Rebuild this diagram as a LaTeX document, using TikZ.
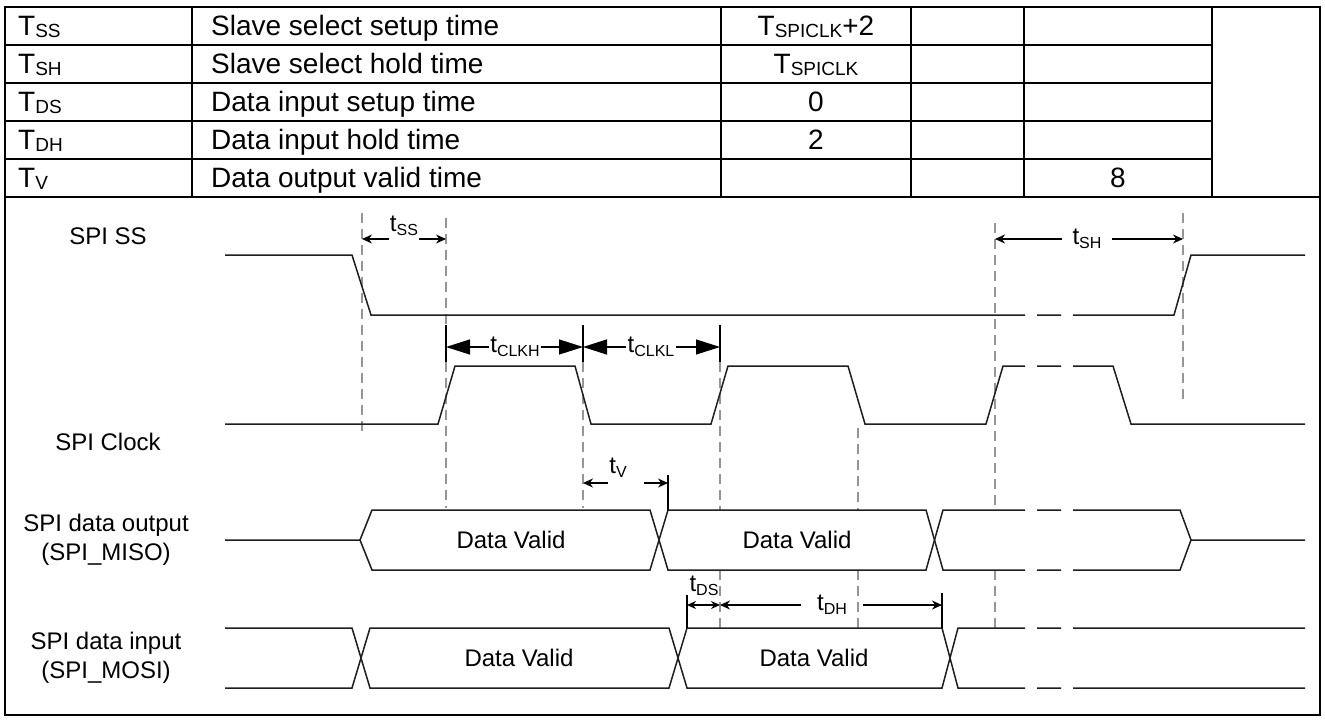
\documentclass[tikz,border=0pt]{standalone}
\usepackage{fontspec}
\setmainfont{Liberation Sans}
\usetikzlibrary{arrows.meta,positioning,calc}
\definecolor{guidegray}{RGB}{150,150,150}
\definecolor{wavegray}{RGB}{30,30,30}
\newcommand{\tabsub}[1]{\raisebox{-2pt}{\fontsize{19}{19}\selectfont #1}}
\newcommand{\wsub}[1]{\raisebox{-4pt}{\fontsize{16}{16}\selectfont #1}}

\begin{document}
\begin{tikzpicture}[x=1pt,y=-1pt,
  tab/.style={line width=1.6pt},
  wave/.style={line width=1.5pt,color=wavegray},
  guide/.style={line width=1.2pt,color=guidegray,dash pattern=on 10pt off 6pt},
  tick/.style={line width=1.2pt},
  sarr/.style={line width=1.3pt,-{Stealth[length=10pt,width=9pt]}},
  barr/.style={line width=1.3pt,-{Triangle[length=24pt,width=15pt]}},
  ttext/.style={font=\fontsize{28}{30}\selectfont,inner sep=0pt},
  wtext/.style={font=\fontsize{24}{29}\selectfont,align=center,inner sep=0pt},
  tlab/.style={font=\fontsize{24}{26}\selectfont,inner sep=1pt}]

\useasboundingbox (0,0) rectangle (1325,720);
\fill[white] (0,0) rectangle (1325,720);

% table and frame
\draw[tab] (5,7) rectangle (1320,715);
\draw[tab] (5,197) -- (1320,197);
\draw[tab] (5,45) -- (1212,45) (5,83) -- (1212,83) (5,121) -- (1212,121) (5,159) -- (1212,159);
\draw[tab] (192,7) -- (192,197) (721,7) -- (721,197) (911,7) -- (911,197)
  (1024,7) -- (1024,197) (1212,7) -- (1212,197);

\node[ttext,anchor=base west] (sym1) at (18,35) {T\tabsub{SS}};
\node[ttext,anchor=base west] (sym2) at (18,73) {T\tabsub{SH}};
\node[ttext,anchor=base west] (sym3) at (18,111) {T\tabsub{DS}};
\node[ttext,anchor=base west] (sym4) at (18,149) {T\tabsub{DH}};
\node[ttext,anchor=base west] (sym5) at (18,187) {T\tabsub{V}};
\node[ttext,anchor=base west] (par1) at (211,35) {Slave select setup time};
\node[ttext,anchor=base west] (par2) at (211,73) {Slave select hold time};
\node[ttext,anchor=base west] (par3) at (211,111) {Data input setup time};
\node[ttext,anchor=base west] (par4) at (211,149) {Data input hold time};
\node[ttext,anchor=base west] (par5) at (211,187) {Data output valid time};
\node[ttext,anchor=base] (min1) at (816,35) {T\tabsub{SPICLK}+2};
\node[ttext,anchor=base] (min2) at (816,73) {T\tabsub{SPICLK}};
\node[ttext,anchor=base] (min3) at (816,111) {0};
\node[ttext,anchor=base] (min4) at (816,149) {2};
\node[ttext,anchor=base] (max5) at (1118,187) {8};

% signal names
\node[wtext] (ssname) at (108,236) {SPI SS};
\node[wtext] (clkname) at (108,442) {SPI Clock};
\node[wtext] (misoname) at (106,540) {SPI data output\\(SPI\_MISO)};
\node[wtext] (mosiname) at (106,658) {SPI data input\\(SPI\_MOSI)};

% guide lines
\draw[guide] (362,213) -- (362,437);
\draw[guide] (446,218) -- (446,508);
\draw[guide] (583,362) -- (583,508);
\draw[guide] (720,362) -- (720,510) (720,570) -- (720,628);
\draw[guide] (858,428) -- (858,510) (858,570) -- (858,628);
\draw[guide] (995,223) -- (995,510) (995,570) -- (995,628);
\draw[guide] (1183,213) -- (1183,400);

% SPI SS
\draw[wave] (225,255) -- (352,255) -- (371,315) -- (1025,315) (1037,315) -- (1061,315)
  (1073,315) -- (1174,315) -- (1191,255) -- (1305,255);
% SPI Clock
\draw[wave] (225,424) -- (438,424) -- (455,366) -- (575,366) -- (591,424) -- (711,424)
  -- (728,366) -- (848,366) -- (865,424) -- (986,424) -- (1003,366) -- (1025,366)
  (1037,366) -- (1061,366) (1073,366) -- (1113,366) -- (1131,424) -- (1305,424);
% SPI_MISO
\draw[wave] (225,540) -- (360,540) -- (372,510) -- (650,510) -- (668,570) -- (926,570)
  -- (943,510) -- (1025,510) (1037,510) -- (1061,510) (1073,510) -- (1180,510)
  -- (1191,540) -- (1305,540);
\draw[wave] (360,540) -- (372,570) -- (650,570) -- (668,510) -- (926,510) -- (943,570)
  -- (1025,570) (1037,570) -- (1061,570) (1073,570) -- (1180,570) -- (1191,540);
% SPI_MOSI
\draw[wave] (225,628) -- (352,628) -- (370,688) -- (669,688) -- (687,628) -- (942,628)
  -- (958,688) -- (1025,688) (1037,688) -- (1061,688) (1073,688) -- (1305,688);
\draw[wave] (225,688) -- (352,688) -- (370,628) -- (669,628) -- (687,688) -- (942,688)
  -- (958,628) -- (1025,628) (1037,628) -- (1061,628) (1073,628) -- (1305,628);

\node[wtext] (dv1) at (511,540) {Data Valid};
\node[wtext] (dv2) at (797,540) {Data Valid};
\node[wtext] (dv3) at (519,658) {Data Valid};
\node[wtext] (dv4) at (814,658) {Data Valid};

% timing marks
\coordinate (ssA) at (362,239);
\coordinate (ssB) at (446,239);
\node[tlab] (tss) at (404,226) {t\wsub{SS}};
\draw[sarr] (tss.west |- ssA) -- (ssA);
\draw[sarr] (tss.east |- ssB) -- (ssB);

\coordinate (shA) at (995,239);
\coordinate (shB) at (1183,239);
\node[tlab,inner xsep=10pt] (tsh) at (1087,239) {t\wsub{SH}};
\draw[sarr] (tsh.west |- shA) -- (shA);
\draw[sarr] (tsh.east |- shB) -- (shB);

\coordinate (chA) at (446,347);
\coordinate (chB) at (583,347);
\coordinate (clB) at (720,347);
\draw[tick] (446,325) -- (446,362) (583,325) -- (583,362) (720,325) -- (720,362);
\node[tlab] (tclkh) at (515,347) {t\wsub{CLKH}};
\node[tlab] (tclkl) at (651,347) {t\wsub{CLKL}};
\draw[barr] (tclkh.west |- chA) -- (chA);
\draw[barr] (tclkh.east |- chB) -- (chB);
\draw[barr] (tclkl.west |- chB) -- (chB);
\draw[barr] (tclkl.east |- clB) -- (clB);

\coordinate (vA) at (583,483);
\coordinate (vB) at (668,483);
\draw[tick] (668,475) -- (668,510);
\node[tlab] (tv) at (618,468) {t\wsub{V}};
\draw[sarr] (tv.west |- vA) -- (vA);
\draw[sarr] ($(tv.east |- vB)+(16,0)$) -- (vB);

\coordinate (dsA) at (687,605);
\coordinate (dsB) at (720,605);
\coordinate (dhB) at (942,605);
\draw[tick] (687,595) -- (687,628) (942,593) -- (942,628);
\node[tlab] (tds) at (704,586) {t\wsub{DS}};
\draw[line width=1.3pt,{Stealth[length=9pt,width=8pt]}-{Stealth[length=9pt,width=8pt]}] (dsA) -- (dsB);
\node[tlab,inner xsep=16pt] (tdh) at (832,605) {t\wsub{DH}};
\draw[sarr] (tdh.west |- dsB) -- (dsB);
\draw[sarr] (tdh.east |- dhB) -- (dhB);
\end{tikzpicture}
\end{document}
